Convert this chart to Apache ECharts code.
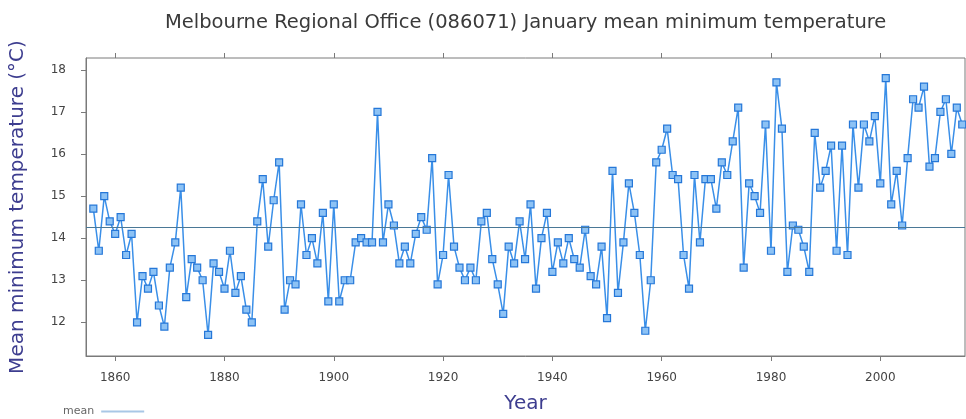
<!DOCTYPE html>
<html>
<head>
<meta charset="utf-8">
<script src="https://cdn.jsdelivr.net/npm/echarts@6/dist/echarts.min.js"></script>
<style>html,body{margin:0;padding:0;background:#fff}#c{width:966px;height:419px}</style>
</head>
<body>
<div id="c"></div>
<script>
const years = [1856,1857,1858,1859,1860,1861,1862,1863,1864,1865,1866,1867,1868,1869,1870,1871,1872,1873,1874,1875,
1876,1877,1878,1879,1880,1881,1882,1883,1884,1885,1886,1887,1888,1889,1890,1891,1892,1893,1894,1895,
1896,1897,1898,1899,1900,1901,1902,1903,1904,1905,1906,1907,1908,1909,1910,1911,1912,1913,1914,1915,
1916,1917,1918,1919,1920,1921,1922,1923,1924,1925,1926,1927,1928,1929,1930,1931,1932,1933,1934,1935,
1936,1937,1938,1939,1940,1941,1942,1943,1944,1945,1946,1947,1948,1949,1950,1951,1952,1953,1954,1955,
1956,1957,1958,1959,1960,1961,1962,1963,1964,1965,1966,1967,1968,1969,1970,1971,1972,1973,1974,1975,
1976,1977,1978,1979,1980,1981,1982,1983,1984,1985,1986,1987,1988,1989,1990,1991,1992,1993,1994,1995,
1996,1997,1998,1999,2000,2001,2002,2003,2004,2005,2006,2007,2008,2009,2010,2011,2012,2013,2014,2015];
const minTemp = [14.7,13.7,15.0,14.4,14.1,14.5,13.6,14.1,12.0,13.1,12.8,13.2,12.4,11.9,13.3,13.9,15.2,12.6,13.5,13.3,
13.0,11.7,13.4,13.2,12.8,13.7,12.7,13.1,12.3,12.0,14.4,15.4,13.8,14.9,15.8,12.3,13.0,12.9,14.8,13.6,
14.0,13.4,14.6,12.5,14.8,12.5,13.0,13.0,13.9,14.0,13.9,13.9,17.0,13.9,14.8,14.3,13.4,13.8,13.4,14.1,
14.5,14.2,15.9,12.9,13.6,15.5,13.8,13.3,13.0,13.3,13.0,14.4,14.6,13.5,12.9,12.2,13.8,13.4,14.4,13.5,
14.8,12.8,14.0,14.6,13.2,13.9,13.4,14.0,13.5,13.3,14.2,13.1,12.9,13.8,12.1,15.6,12.7,13.9,15.3,14.6,
13.6,11.8,13.0,15.8,16.1,16.6,15.5,15.4,13.6,12.8,15.5,13.9,15.4,15.4,14.7,15.8,15.5,16.3,17.1,13.3,
15.3,15.0,14.6,16.7,13.7,17.7,16.6,13.2,14.3,14.2,13.8,13.2,16.5,15.2,15.6,16.2,13.7,16.2,13.6,16.7,
15.2,16.7,16.3,16.9,15.3,17.8,14.8,15.6,14.3,15.9,17.3,17.1,17.6,15.7,15.9,17.0,17.3,16.0,17.1,16.7];
const meanValue = 14.27;
const xTicks = [1860,1880,1900,1920,1940,1960,1980,2000];
const yTicks = [12,13,14,15,16,17,18];

const chart = echarts.init(document.getElementById('c'), null, {renderer:'canvas'});
const axisGray = '#7a7a7a';
const labelStyle = {color:'#444', fontSize:12, fontFamily:'DejaVu Sans'};
chart.setOption({
  animation:false,
  backgroundColor:'#fff',
  title:{
    text:'Melbourne Regional Office (086071) January mean minimum temperature',
    left:160, top:8,
    textStyle:{fontFamily:'DejaVu Sans', fontSize:19.5, fontWeight:'normal', color:'#3a3a3a'}
  },
  legend:{
    data:[{name:'mean', icon:'rect'}],
    left:58, top:401, align:'right',
    itemWidth:43, itemHeight:2,
    itemStyle:{color:'#a9c7e6'},
    textStyle:{fontFamily:'DejaVu Sans', fontSize:11, color:'#666', padding:[0,2,0,0]}
  },
  grid:{left:86, right:1, top:58, bottom:59, show:true, borderColor:axisGray, borderWidth:1, backgroundColor:'#fff'},
  xAxis:[{
    type:'value', min:1854.66, max:2015.5,
    name:'Year', nameLocation:'middle', nameGap:38,
    nameTextStyle:{fontFamily:'DejaVu Sans', fontSize:20, color:'#3d3d8f'},
    axisLine:{show:true, lineStyle:{color:axisGray}},
    axisTick:{show:true, length:5, customValues:xTicks, lineStyle:{color:axisGray}},
    axisLabel:{show:true, customValues:xTicks, margin:16, formatter:(v)=>String(v), ...labelStyle},
    splitLine:{show:false}
  },{
    type:'value', position:'top', min:1854.66, max:2015.5,
    axisLine:{show:false},
    axisTick:{show:true, length:5, customValues:xTicks, lineStyle:{color:axisGray}},
    axisLabel:{show:false},
    splitLine:{show:false}
  }],
  yAxis:{
    type:'value', min:11.2, max:18.28,
    name:'Mean minimum temperature (°C)', nameLocation:'middle', nameGap:58,
    nameTextStyle:{fontFamily:'DejaVu Sans', fontSize:20, color:'#3d3d8f'},
    axisLine:{show:true, lineStyle:{color:axisGray}},
    axisTick:{show:true, length:5, customValues:yTicks, lineStyle:{color:axisGray}},
    axisLabel:{show:true, customValues:yTicks, margin:20, ...labelStyle},
    splitLine:{show:false}
  },
  series:[{
    name:'Melbourne', type:'line',
    data: years.map((y,i)=>[y, minTemp[i]]),
    symbol:'rect', symbolSize:7,
    lineStyle:{color:'#3a8fe8', width:1.5},
    itemStyle:{color:'#8cc2f5', borderColor:'#2577d8', borderWidth:1.2},
    z:3
  },{
    name:'mean', type:'line', data:[],
    symbol:'none',
    lineStyle:{color:'#a9c7e6'},
    itemStyle:{color:'#a9c7e6'},
    markLine:{
      symbol:'none', silent:true, label:{show:false},
      lineStyle:{color:'#4a7896', width:1, type:'solid'},
      data:[{yAxis:meanValue}]
    },
    z:2
  }]
});
</script>
</body>
</html>
